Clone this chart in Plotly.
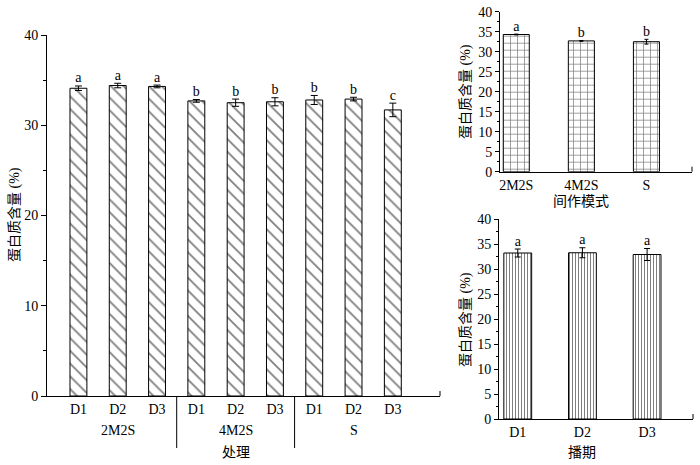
import plotly.graph_objects as go

# ---- data ----
treat_x = [1, 2, 3, 4, 5, 6, 7, 8, 9]
treat_labels = ["D1", "D2", "D3", "D1", "D2", "D3", "D1", "D2", "D3"]
groups = ["2M2S", "4M2S", "S"]
treat_vals = [34.1, 34.4, 34.3, 32.7, 32.5, 32.6, 32.8, 32.9, 31.7]
treat_err = [0.25, 0.25, 0.15, 0.15, 0.4, 0.45, 0.5, 0.2, 0.75]
treat_sig = ["a", "a", "a", "b", "b", "b", "b", "b", "c"]

mode_labels = ["2M2S", "4M2S", "S"]
mode_vals = [34.3, 32.7, 32.5]
mode_err = [0.1, 0.1, 0.6]
mode_sig = ["a", "b", "b"]

date_labels = ["D1", "D2", "D3"]
date_vals = [33.2, 33.25, 32.9]
date_err = [0.8, 1.0, 1.2]
date_sig = ["a", "a", "a"]

FONT = "Liberation Serif, Noto Sans CJK SC, serif"
FS = 14
W, H = 700, 465


def px_x(v):
    return v / W


def px_y(v):
    return 1 - v / H


fig = go.Figure()

# main chart
fig.add_trace(go.Bar(
    x=treat_x, y=treat_vals, width=0.43,
    marker=dict(color="white", line=dict(color="black", width=1),
                pattern=dict(shape="\\", size=9, solidity=0.2, fgcolor="black", bgcolor="white")),
    error_y=dict(type="data", array=treat_err, color="black", thickness=1, width=3.5),
    xaxis="x", yaxis="y", showlegend=False))
fig.add_trace(go.Scatter(
    x=treat_x, y=[v + e for v, e in zip(treat_vals, treat_err)], text=treat_sig,
    mode="text", textposition="top center", textfont=dict(family=FONT, size=FS, color="black"),
    xaxis="x", yaxis="y", showlegend=False))

# top-right chart
mx = list(range(len(mode_labels)))
fig.add_trace(go.Bar(
    x=mx, y=mode_vals, width=0.4,
    marker=dict(color="white", line=dict(color="black", width=1),
                pattern=dict(shape="+", size=7, solidity=0.2, fgcolor="black", bgcolor="white")),
    error_y=dict(type="data", array=mode_err, color="black", thickness=1, width=2),
    xaxis="x2", yaxis="y2", showlegend=False))
fig.add_trace(go.Scatter(
    x=mx, y=[v + e for v, e in zip(mode_vals, mode_err)], text=mode_sig,
    mode="text", textposition="top center", textfont=dict(family=FONT, size=FS, color="black"),
    xaxis="x2", yaxis="y2", showlegend=False))

# bottom-right chart
dx = list(range(len(date_labels)))
fig.add_trace(go.Bar(
    x=dx, y=date_vals, width=0.43,
    marker=dict(color="white", line=dict(color="black", width=1),
                pattern=dict(shape="|", size=3, solidity=0.35, fgcolor="black", bgcolor="white")),
    error_y=dict(type="data", array=date_err, color="black", thickness=1, width=3),
    xaxis="x3", yaxis="y3", showlegend=False))
fig.add_trace(go.Scatter(
    x=dx, y=[v + e for v, e in zip(date_vals, date_err)], text=date_sig,
    mode="text", textposition="top center", textfont=dict(family=FONT, size=FS, color="black"),
    xaxis="x3", yaxis="y3", showlegend=False))

axis_common = dict(showline=True, linecolor="black", linewidth=1, showgrid=False, zeroline=False,
                   automargin=False, tickfont=dict(family=FONT, size=FS, color="black"))

fig.update_layout(
    width=W, height=H, margin=dict(l=0, r=0, t=0, b=0, autoexpand=False),
    paper_bgcolor="white", plot_bgcolor="white",
    font=dict(family=FONT, size=FS, color="black"),
    xaxis=dict(domain=[px_x(47), px_x(440)], anchor="y", range=[0.2, 10.2],
               tickvals=treat_x, ticktext=treat_labels, ticks="", **axis_common),
    yaxis=dict(domain=[px_y(396), px_y(35)], anchor="x", range=[0, 40], dtick=10,
               ticks="outside", ticklen=5, tickcolor="black",
               minor=dict(dtick=5, ticks="outside", ticklen=3, tickcolor="black"), **axis_common),
    xaxis2=dict(domain=[px_x(500), px_x(692)], anchor="y2", range=[-0.25, 2.7],
                tickvals=mx, ticktext=mode_labels, ticks="", **axis_common),
    yaxis2=dict(domain=[px_y(171.7), px_y(11.7)], anchor="x2", range=[0, 40], dtick=5,
                ticks="outside", ticklen=4, tickcolor="black",
                minor=dict(dtick=2.5, ticks="outside", ticklen=2, tickcolor="black"), **axis_common),
    xaxis3=dict(domain=[px_x(499), px_x(693)], anchor="y3", range=[-0.29, 2.71],
                tickvals=dx, ticktext=date_labels, ticks="", **axis_common),
    yaxis3=dict(domain=[px_y(419), px_y(219)], anchor="x3", range=[0, 40], dtick=5,
                ticks="outside", ticklen=4, tickcolor="black",
                minor=dict(dtick=2.5, ticks="outside", ticklen=2, tickcolor="black"), **axis_common),
)

# group separators and end ticks
shapes = []
for xs in [3.5, 6.5]:
    shapes.append(dict(type="line", xref="x", yref="paper", x0=xs, x1=xs,
                       y0=px_y(396), y1=px_y(448), line=dict(color="black", width=1)))
for xe, ye in [(440, 396), (692, 171.7), (693, 419)]:
    shapes.append(dict(type="line", xref="paper", yref="paper", x0=px_x(xe), x1=px_x(xe),
                       y0=px_y(ye), y1=px_y(ye - 5), line=dict(color="black", width=1)))
fig.update_layout(shapes=shapes)

ann = []
for i, g in enumerate(groups):
    ann.append(dict(x=2 + 3 * i, xref="x", y=px_y(430), yref="paper", text=g, showarrow=False,
                    font=dict(family=FONT, size=FS, color="black"), yanchor="middle"))
ann.append(dict(x=5, xref="x", y=px_y(452), yref="paper", text="处理", showarrow=False,
                font=dict(family=FONT, size=FS, color="black"), yanchor="middle"))
ann.append(dict(x=1, xref="x2", y=px_y(201), yref="paper", text="间作模式", showarrow=False,
                font=dict(family=FONT, size=FS, color="black"), yanchor="middle"))
ann.append(dict(x=1, xref="x3", y=px_y(452), yref="paper", text="播期", showarrow=False,
                font=dict(family=FONT, size=FS, color="black"), yanchor="middle"))
for xp, yp in [(15, 215), (466, 92), (466, 320)]:
    ann.append(dict(x=px_x(xp), xref="paper", y=px_y(yp), yref="paper", text="蛋白质含量 (%)",
                    textangle=-90, showarrow=False, xanchor="center", yanchor="middle",
                    font=dict(family=FONT, size=FS, color="black")))
fig.update_layout(annotations=ann)

fig.write_html("out.html", config={"displayModeBar": False},
               post_script="document.body.style.margin='0';document.body.style.overflow='hidden';")
